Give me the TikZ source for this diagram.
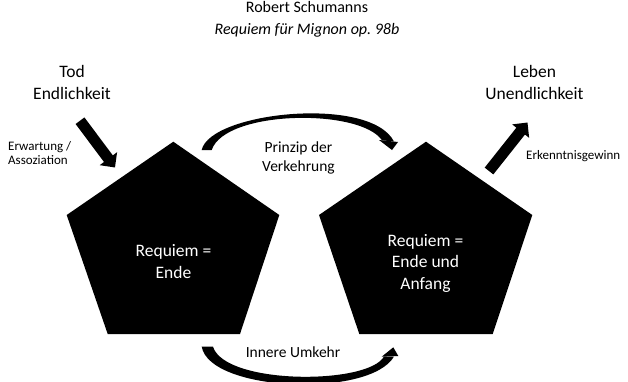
\documentclass[tikz,border=0pt]{standalone}
\usepackage{fontspec}
\setmainfont{Carlito}
\usetikzlibrary{arrows.meta}
\frenchspacing
\begin{document}
\begin{tikzpicture}[x=1pt,y=-1pt,
  label big/.style={font=\fontsize{17.5}{21.3}\selectfont, align=center, inner sep=0pt, anchor=base},
  label mid/.style={font=\fontsize{15.5}{18.8}\selectfont, align=center, inner sep=0pt, anchor=base},
  label small/.style={font=\fontsize{13}{13.7}\selectfont, align=left, inner sep=0pt, anchor=base west},
  pentagon fill/.style={fill=black},
  pentagon text/.style={label big, text=white},
  block arrow/.style={line width=11pt, -{Triangle[width=21pt,length=11pt]}},
  band/.style={fill=black}
]
\useasboundingbox (0,0) rectangle (628,381);
\clip (0,0) rectangle (628,381);

% heading (base anchor sits on the last line)
\node[font=\fontsize{16}{21.8}\selectfont, align=center, inner sep=0pt, anchor=base] (title) at (307,34.5)
  {Robert Schumanns\\\textit{Requiem für Mignon op. 98b}};

% side labels
\node[label big] (tod) at (72,99) {Tod\\Endlichkeit};
\node[label big] (leben) at (534.5,99) {Leben\\Unendlichkeit};
\node[label small] (erw) at (8,164) {Erwartung /\\Assoziation};
\node[label small] (erk) at (526,159) {Erkenntnisgewinn};

% the two pentagons
\coordinate (a1) at (173.3,141.7);
\coordinate (a2) at (279.3,215);
\coordinate (a3) at (240,334);
\coordinate (a4) at (107.7,334);
\coordinate (a5) at (66.7,215);
\fill[pentagon fill] (a1) -- (a2) -- (a3) -- (a4) -- (a5) -- cycle;
\coordinate (b1) at (426,141.7);
\coordinate (b2) at (532.3,215);
\coordinate (b3) at (492.7,334);
\coordinate (b4) at (359.3,334);
\coordinate (b5) at (319,215);
\fill[pentagon fill] (b1) -- (b2) -- (b3) -- (b4) -- (b5) -- cycle;
\node[pentagon text] (ende) at (173.5,278) {Requiem =\\Ende};
\node[pentagon text] (anfang) at (425.5,289) {Requiem =\\Ende und\\Anfang};

% straight block arrows
\coordinate (todTail) at (80,120.7);
\coordinate (todTip) at (115,167.5);
\draw[block arrow] (todTail) -- (todTip);
\coordinate (lebenTail) at (489,171);
\coordinate (lebenTip) at (527.5,122.5);
\draw[block arrow] (lebenTail) -- (lebenTip);

% upper curved arrow
\node[label mid] (prinzip) at (298.5,171.5) {Prinzip der\\Verkehrung};
\fill[band] (201.7,150) .. controls (210,112) and (370,95) .. (394,141.5)
  -- (382,140.3) .. controls (360,108) and (225,110) .. (211.7,150) -- cycle;
\fill[band] (379,140) -- (398,142) -- (392,150) -- cycle;

% lower curved arrow
\node[label mid] (umkehr) at (293,357) {Innere Umkehr};
\fill[band] (201.7,346.7) .. controls (210,392) and (370,398) .. (394,356.5)
  -- (384,356.5) .. controls (368,385) and (225,385) .. (213,346.7) -- cycle;
\fill[band] (381.7,356.7) -- (398.3,356) -- (393.3,347.3) -- cycle;
\end{tikzpicture}
\end{document}
